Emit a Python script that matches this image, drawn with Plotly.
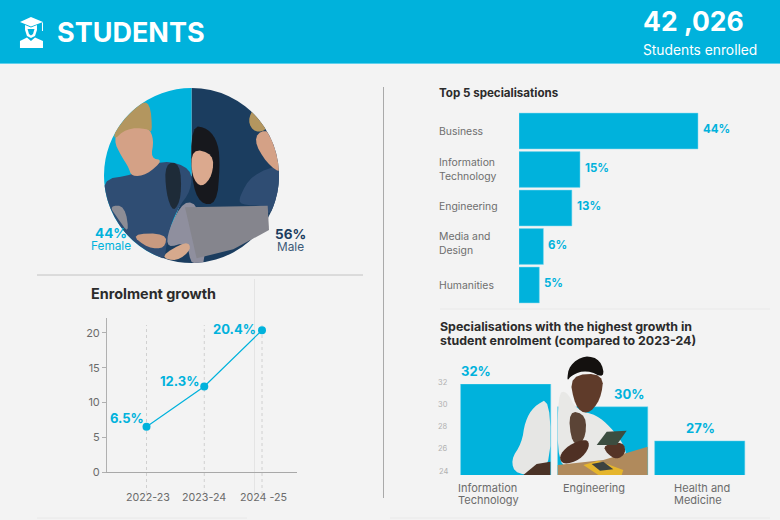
import numpy as np
import plotly.graph_objects as go

CYAN = "#00b2dc"
NAVY = "#1b3d5f"
PAPER = "#f3f3f3"
FONT = "Inter"

gender = ["Male", "Female"]
gender_share = [56, 44]

top_names = ["Business", "Information<br>Technology", "Engineering", "Media and<br>Design", "Humanities"]
top_share = [44, 15, 13, 6, 5]

years = ["2022-23", "2023-24", "2024 -25"]
enrolment_growth = [6.5, 12.3, 20.4]
growth_ticks = [0, 5, 10, 15, 20]

spec_names = ["Information<br>Technology", "Engineering", "Health and<br>Medicine"]
spec_growth = [32, 30, 27]
spec_ticks = [24, 26, 28, 30, 32]


def px_x(x):
    return x / 780


def px_y(y):
    return 1 - y / 520


def text(x, y, s, size, color="#2b2b2b", bold=False, anchor="left", align="left"):
    if anchor == "left":
        x -= 2
    fig.add_annotation(
        x=px_x(x), y=px_y(y), xref="paper", yref="paper", text=f"<b>{s}</b>" if bold else s,
        showarrow=False, xanchor=anchor, yanchor="middle", align=align,
        font=dict(size=size, color=color, family=FONT),
    )


def poly(points, color):
    path = "M" + "L".join(f"{px_x(x):.4f},{px_y(y):.4f}" for x, y in points) + "Z"
    fig.add_shape(type="path", path=path, xref="paper", yref="paper", fillcolor=color,
                  line_width=0, layer="above")


def line(x0, y0, x1, y1, color="#b5b5b5", width=1):
    fig.add_shape(type="line", x0=px_x(x0), x1=px_x(x1), y0=px_y(y0), y1=px_y(y1),
                  xref="paper", yref="paper", line=dict(color=color, width=width), layer="below")


def smooth(pts, rounds=2):
    """Round off the corners of a closed outline"""
    pts = np.array(pts, dtype=float)
    for _ in range(rounds):
        nxt = np.roll(pts, -1, axis=0)
        pts = np.column_stack([0.75 * pts + 0.25 * nxt, 0.25 * pts + 0.75 * nxt]).reshape(-1, 2)
    return pts


def pie_poly(zoom_points, color):
    """Photo piece given in 3x zoom pixels, pushed back inside the pie circle"""
    pts = smooth(zoom_points) / 3 - [191.5, 175.5]
    r = np.hypot(pts[:, 0], pts[:, 1])
    pts *= np.minimum(1, 87.5 / np.maximum(r, 1e-6))[:, None]
    poly(pts + [191.5, 175.5], color)


def lab_poly(zoom_points, color, rounded=True):
    pts = smooth(zoom_points) if rounded else np.array(zoom_points, dtype=float)
    poly(pts / 3 + [390, 310], color)


fig = go.Figure()

# gender pie
fig.add_trace(go.Pie(
    labels=gender, values=gender_share, sort=False, direction="clockwise", rotation=0,
    marker=dict(colors=[NAVY, CYAN], line_width=0), textinfo="none", showlegend=False,
    domain=dict(x=[px_x(104), px_x(279)], y=[px_y(263), px_y(88)]),
))

# top 5 bars
fig.add_trace(go.Bar(
    x=top_share, y=top_names, orientation="h", marker=dict(color=CYAN, line=dict(color="#7fd8ee", width=0.5)),
    xaxis="x", yaxis="y", showlegend=False,
))

# growth line
fig.add_trace(go.Scatter(
    x=years, y=enrolment_growth, mode="lines+markers", line=dict(color=CYAN, width=1.2),
    marker=dict(color=CYAN, size=8), xaxis="x2", yaxis="y2", showlegend=False, cliponaxis=False,
))

# specialisation growth bars
fig.add_trace(go.Bar(
    x=spec_names, y=spec_growth, marker=dict(color=CYAN, line=dict(color="#7fd8ee", width=0.5)),
    xaxis="x3", yaxis="y3", showlegend=False,
))

fig.update_layout(
    width=780, height=520, margin=dict(l=0, r=0, t=0, b=0, autoexpand=False),
    paper_bgcolor=PAPER, plot_bgcolor="rgba(0,0,0,0)", bargap=0.07,
    font=dict(family=FONT, color="#6b6b6b"),
    xaxis=dict(domain=[px_x(519), px_x(722.4)], range=[0, 50], visible=False),
    yaxis=dict(domain=[px_y(304.25), px_y(111.75)], type="category", range=[4.5, -0.5], visible=False),
    xaxis2=dict(domain=[px_x(107), px_x(297)], type="category", range=[-0.684, 2.606],
                showgrid=False, ticks="", showline=True, linecolor="#a8a8a8", linewidth=1,
                showticklabels=False, zeroline=False, anchor="y2"),
    yaxis2=dict(domain=[px_y(472), px_y(317.7)], range=[0, 22.2], tickvals=growth_ticks,
                showgrid=False, zeroline=False, ticks="outside", ticklen=4, tickcolor="#b0b0b0",
                showline=True, linecolor="#b0b0b0", linewidth=1, anchor="x2",
                tickfont=dict(size=11, color="#6b6b6b", family=FONT)),
    xaxis3=dict(domain=[px_x(457.15), px_x(748.25)], type="category", range=[-0.5, 2.5],
                showticklabels=False, showgrid=False, ticks="", showline=False, anchor="y3"),
    yaxis3=dict(domain=[px_y(475), px_y(384)], range=[24, 32], tickvals=spec_ticks,
                showgrid=False, zeroline=False, ticks="", showline=False, anchor="x3",
                showticklabels=False),
)

# header band
fig.add_shape(type="rect", x0=0, x1=1, y0=px_y(63), y1=1, xref="paper", yref="paper",
              fillcolor=CYAN, line_width=0, layer="below")
line(0, 63.5, 780, 63.5, "#5fd0ec", 1)

# divider lines
line(37, 275, 363, 275, "#c2c2c2")
line(383.5, 87, 383.5, 498, "#a9a9a9")
line(37, 518, 247, 518, "#e8e8e8")
line(440, 309, 770, 309, "#e9e9e9")
line(390, 518, 770, 518, "#e9e9e9")
line(254.5, 279, 254.5, 494, "#e4e4e4")

# dashed year guides
for year in years:
    fig.add_shape(type="line", x0=year, x1=year, xref="x2", yref="paper",
                  y0=px_y(494), y1=px_y(325), line=dict(color="#d0d0d0", width=1, dash="3px,3px"),
                  layer="below")

# graduate icon
poly([(31, 17), (43, 22), (31, 26.5), (20, 22)], "white")
poly([(25, 25), (31, 27.5), (37, 25), (37, 30), (35, 36), (31, 38), (27, 36), (25, 30)], "white")
poly([(27.5, 29), (34.5, 29), (33, 34), (31, 35.5), (29, 34)], CYAN)
poly([(20, 48), (20, 41), (27, 37.5), (31, 41), (35, 37.5), (43, 41), (43, 48)], "white")
poly([(42, 22.5), (43, 22.5), (43, 31), (42, 31)], "white")

text(57, 32, "STUDENTS", 27, "white", True)
text(643, 21, "42 ,026", 26.5, "white", True)
text(643, 49.5, "Students enrolled", 13.8, "white")

# pie photo
pie_poly([(300, 540), (400, 525), (490, 478), (574, 505), (574, 570), (530, 630), (505, 700), (490, 800), (400, 740), (330, 640)], "#2f4d73")
pie_poly([(495, 490), (540, 488), (545, 590), (520, 640), (498, 580)], "#1e2b38")
pie_poly([(340, 420), (365, 375), (445, 380), (462, 420), (452, 475), (490, 480), (440, 525), (395, 530), (385, 500), (365, 470)], "#d4a186")
pie_poly([(335, 425), (360, 355), (415, 312), (450, 305), (458, 400), (440, 385), (380, 385)], "#b3965f")
pie_poly([(328, 618), (375, 617), (388, 705), (350, 650)], "#8d8d95")
pie_poly([(390, 702), (500, 700), (495, 745), (445, 745)], "#c99a80")
pie_poly([(552, 600), (505, 690), (500, 745), (560, 725), (575, 800), (620, 800), (600, 620)], "#8f8f9e")
pie_poly([(478, 770), (560, 722), (575, 748), (530, 785)], "#d6a98d")
pie_poly([(574, 376), (625, 385), (655, 430), (660, 500), (650, 612), (600, 612), (574, 540)], "#17181d")
pie_poly([(575, 445), (640, 462), (638, 525), (605, 565), (575, 530)], "#dba98e")
pie_poly([(718, 590), (755, 525), (850, 490), (850, 570), (806, 650), (800, 617), (720, 615)], "#2f4d73")
pie_poly([(760, 420), (790, 385), (850, 420), (850, 525), (800, 490)], "#d4a186")
pie_poly([(742, 362), (765, 318), (810, 385), (765, 400)], "#b3965f")
poly_laptop = [(555, 622), (803, 617), (807, 690), (700, 748), (590, 775)]
pts = np.array(poly_laptop, dtype=float) / 3
poly(pts, "#85858d")


def pie_label(x, y, pct, name, color, name_color):
    fig.add_annotation(
        x=px_x(x), y=px_y(y), xref="paper", yref="paper", showarrow=False, align="center",
        text=f'<span style="font-size:13.5px;color:{color}"><b>{pct}%</b></span><br>'
             f'<span style="font-size:11.8px;color:{name_color}">{name}</span>',
        font=dict(size=9.4, family=FONT),
    )


pie_label(89, 239, gender_share[1], gender[1], CYAN, CYAN)
pie_label(290, 240, gender_share[0], gender[0], NAVY, "#3d5a78")

# top 5 section
text(439, 93, "Top 5 specialisations", 11.6, bold=True)
for name, v, dy in zip(top_names, top_share, [0, 0, 2, 3, 0]):
    fig.add_annotation(x=px_x(437), xref="paper", y=name, yref="y", text=name, showarrow=False,
                       xanchor="left", align="left", yshift=dy,
                       font=dict(size=10.4, color="#6e6e6e", family=FONT))
    fig.add_annotation(x=v, xref="x", y=name, yref="y", text=f"<b>{v}%</b>", showarrow=False,
                       xanchor="left", xshift=3, yshift=2,
                       font=dict(size=11.5, color=CYAN, family=FONT))

# growth section
text(91, 293.5, "Enrolment growth", 14.4, bold=True)
for year, v, dx, dy in zip(years, enrolment_growth, [-1, -3.5, -4.5], [9, 6, 1.5]):
    fig.add_annotation(x=year, y=v, xref="x2", yref="y2", text=f"<b>{v}%</b>", showarrow=False,
                       xanchor="right", xshift=dx, yshift=dy,
                       font=dict(size=13, color=CYAN, family=FONT))
for year, dx in zip(years, [1, 0, 1.5]):
    fig.add_annotation(x=year, xref="x2", y=px_y(506), yref="paper", text=year, showarrow=False,
                       xshift=dx, font=dict(size=10.7, color="#6b6b6b", family=FONT))

# lab photo over the second bar chart
lab_poly([(481, 262), (430, 290), (405, 335), (395, 400), (362, 450), (378, 495), (481, 495)], "#e6e6e4")
lab_poly([(400, 495), (440, 462), (481, 455), (481, 495)], "#4a3226", False)
lab_poly([(503, 250), (530, 243), (560, 300), (620, 315), (660, 350), (700, 400), (712, 445), (560, 470), (503, 470)], "#e8e8e6")
lab_poly([(535, 300), (590, 315), (585, 395), (545, 405)], "#5b4436")
lab_poly([(538, 195), (642, 190), (632, 270), (592, 315), (555, 290)], "#5f3b2a")
lab_poly([(530, 215), (538, 165), (585, 135), (632, 150), (645, 205), (590, 180), (545, 195)], "#14110f")
lab_poly([(503, 465), (640, 450), (773, 410), (773, 495), (503, 495)], "#b08a5c", False)
lab_poly([(506, 440), (535, 405), (590, 385), (600, 410), (570, 450), (520, 465)], "#4f3024")
lab_poly([(640, 405), (700, 395), (708, 430), (680, 450), (650, 430)], "#553426")
lab_poly([(620, 405), (650, 365), (710, 362), (680, 405)], "#3c4d40", False)
lab_poly([(580, 465), (625, 452), (700, 480), (695, 495), (625, 495)], "#e5b52c", False)
lab_poly([(605, 462), (640, 455), (670, 478), (630, 482)], "#3d4240", False)

# specialisation section
text(440, 326, "Specialisations with the highest growth in", 12.4, bold=True)
text(440, 340, "student enrolment (compared to 2023-24)", 12.4, bold=True)
for name, v, dx in zip(spec_names, spec_growth, [-30, 26, 1]):
    fig.add_annotation(x=name, y=v, xref="x3", yref="y3", text=f"<b>{v}%</b>", showarrow=False,
                       yanchor="bottom", yshift=3, xshift=dx, font=dict(size=13, color=CYAN, family=FONT))
for tick, dy in zip(spec_ticks, [4, 3.5, 3, 2, 1.5]):
    fig.add_annotation(x=px_x(443), xref="paper", y=tick, yref="y3", text=str(tick), showarrow=False,
                       yshift=dy, font=dict(size=7.5, color="#b0b0b0", family=FONT))
for name, dx in zip(spec_names, [-50, -42, -28]):
    fig.add_annotation(x=name, xref="x3", y=px_y(479), yref="paper", showarrow=False,
                       text=f'<span style="font-size:11px">{name.replace("<br>", "</span><br><span style=\"font-size:11px\">")}</span>',
                       xanchor="left", yanchor="top", align="left", xshift=dx,
                       font=dict(size=9.4, color="#6b6b6b", family=FONT))

fig.write_html("out.html", config={"displayModeBar": False}, post_script="document.body.style.margin='0';")
